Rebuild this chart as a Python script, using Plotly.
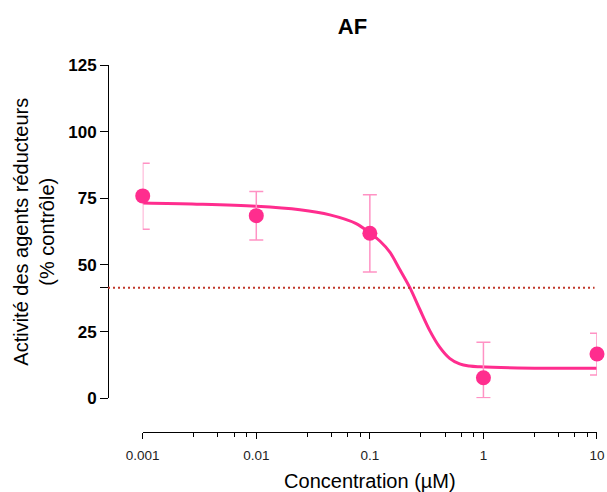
import plotly.graph_objects as go

# Data points (mean ± error)
conc = [0.001, 0.01, 0.1, 1, 10]
activity = [75.9, 68.5, 61.9, 7.7, 16.6]
err_plus = [12.3, 9.1, 14.4, 13.3, 7.8]
err_minus = [12.5, 9.1, 14.5, 7.5, 7.9]

# Fitted curve
fit_conc = [0.001, 0.003, 0.01, 0.0242, 0.0445, 0.075, 0.1, 0.1225, 0.15, 0.184,
            0.225, 0.275, 0.337, 0.412, 0.504, 0.617, 0.755, 0.93, 2, 10]
fit_act = [73.2, 72.8, 72.0, 70.7, 68.8, 65.6, 62.0, 59.0, 54.8, 48.2,
           41.5, 33.4, 25.4, 19.2, 15.0, 12.9, 12.1, 11.8, 11.4, 11.3]

threshold = 41.5

x_tickvals = [0.001, 0.01, 0.1, 1, 10]
x_ticktext = ["0.001", "0.01", "0.1", "1", "10"]
x_minor = [d * m for d in [0.001, 0.01, 0.1, 1] for m in [2.8, 4.6, 6.4, 8.2]]
y_tickvals = [0, 25, threshold, 50, 75, 100, 125]
y_ticktext = ["0", "25", "", "50", "75", "100", "125"]

pink = "#FF2D8E"
pink_light = "#FF92C4"

fig = go.Figure()
fig.add_trace(go.Scatter(
    x=fit_conc, y=fit_act, mode="lines",
    line=dict(color=pink, width=3, shape="spline", smoothing=1.0),
    hoverinfo="skip", showlegend=False,
))
fig.add_trace(go.Scatter(
    x=conc, y=activity, mode="markers",
    marker=dict(color=pink, size=15),
    error_y=dict(type="data", symmetric=False, array=err_plus, arrayminus=err_minus,
                 color=pink_light, thickness=1.5, width=7),
    cliponaxis=False, showlegend=False,
))

fig.add_shape(type="line", xref="paper", yref="y", x0=0, x1=0.995,
              y0=threshold, y1=threshold,
              line=dict(color="#C0392B", width=2, dash="2px,3px"))

font_family = "Liberation Sans, Arial, Helvetica, sans-serif"

fig.update_layout(
    width=607, height=492,
    margin=dict(l=108, r=10, t=65, b=60, autoexpand=False),
    plot_bgcolor="white", paper_bgcolor="white",
    font=dict(family=font_family, color="black"),
    title=dict(text="<b>AF</b>", x=0.5, xref="paper", xanchor="center",
               y=1 - 26.5 / 492, yanchor="middle", font=dict(size=22)),
    xaxis=dict(
        type="log", range=[-3, 1], domain=[0.071, 1], anchor="free", position=0,
        automargin=False,
        showline=True, linecolor="black", linewidth=1,
        showgrid=False, zeroline=False,
        ticks="outside", ticklen=6, tickwidth=1, tickcolor="black",
        tickvals=x_tickvals, ticktext=x_ticktext, ticklabelstandoff=5,
        tickfont=dict(size=13.5, color="#222"),
        minor=dict(tickvals=x_minor, ticks="outside", ticklen=4, tickcolor="black", showgrid=False),
        title=dict(text="Concentration (µM)", font=dict(size=20), standoff=12),
    ),
    yaxis=dict(
        range=[0, 125], domain=[0.0918, 1], anchor="free", position=0,
        automargin=False,
        showline=True, linecolor="black", linewidth=1,
        showgrid=False, zeroline=False,
        ticks="outside", ticklen=8, tickwidth=1, tickcolor="black",
        tickvals=y_tickvals, ticktext=y_ticktext,
        tickfont=dict(size=17, weight="bold"),
    ),
    annotations=[dict(
        text="Activité des agents réducteurs<br>(% contrôle)",
        xref="paper", yref="paper", x=(34 - 108) / 489, y=(432 - 231.7) / 367,
        xanchor="center", yanchor="middle", textangle=-90, showarrow=False,
        font=dict(size=20),
    )],
)

fig.write_html("out.html", config={"displayModeBar": False},
               post_script="document.body.style.margin='0';")
